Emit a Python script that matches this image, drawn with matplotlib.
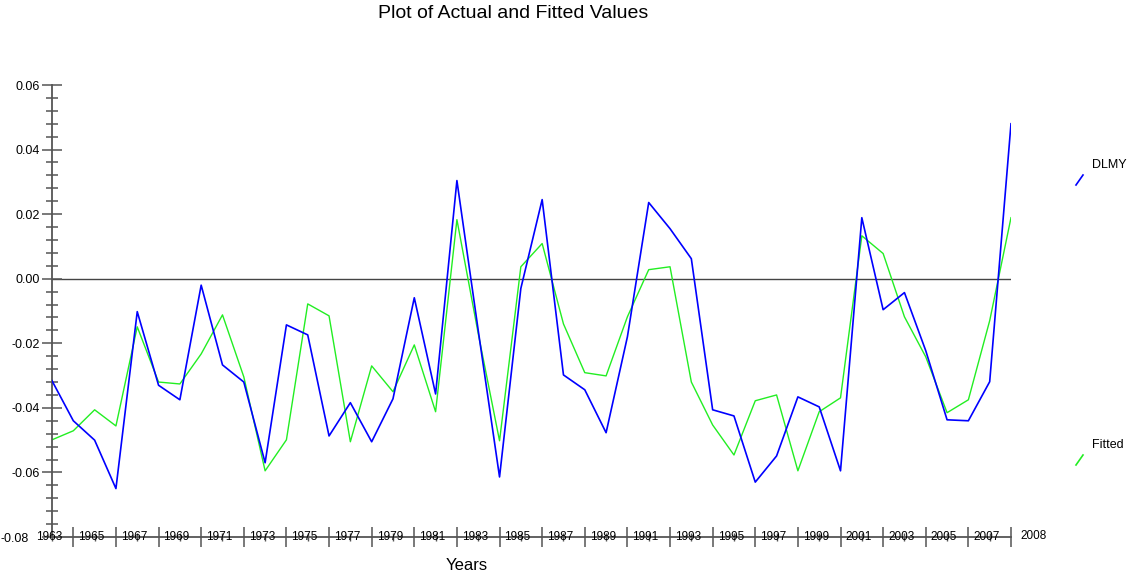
import matplotlib
matplotlib.use("Agg")
import matplotlib.pyplot as plt
from matplotlib.transforms import ScaledTranslation
import numpy as np

years = list(range(1963, 2009))

dlmy = [-0.0316, -0.0440, -0.0500, -0.0650, -0.0102, -0.0330, -0.0375, -0.0020,
        -0.0267, -0.0320, -0.0570, -0.0143, -0.0174, -0.0487, -0.0384, -0.0505,
        -0.0372, -0.0059, -0.0357, 0.0304, -0.0160, -0.0614, -0.0030, 0.0245,
        -0.0298, -0.0344, -0.0477, -0.0180, 0.0236, 0.0155, 0.0062, -0.0406,
        -0.0425, -0.0630, -0.0549, -0.0366, -0.0397, -0.0595, 0.0189, -0.0096,
        -0.0043, -0.0223, -0.0437, -0.0440, -0.0319, 0.0480]

fitted = [-0.0499, -0.0471, -0.0406, -0.0456, -0.0149, -0.0320, -0.0326, -0.0233,
          -0.0112, -0.0304, -0.0595, -0.0499, -0.0078, -0.0115, -0.0505, -0.0270,
          -0.0350, -0.0205, -0.0412, 0.0183, -0.0170, -0.0502, 0.0037, 0.0109,
          -0.0140, -0.0291, -0.0301, -0.0118, 0.0028, 0.0037, -0.0320, -0.0453,
          -0.0546, -0.0378, -0.0360, -0.0595, -0.0412, -0.0369, 0.0133, 0.0078,
          -0.0118, -0.0242, -0.0415, -0.0375, -0.0130, 0.0189]

y_ticks = [-0.08, -0.06, -0.04, -0.02, 0.00, 0.02, 0.04, 0.06]
label_years = list(range(1963, 2008, 2))

plt.rcParams["font.family"] = ["Liberation Sans", "DejaVu Sans"]

W, H = 1131, 577
fig = plt.figure(figsize=(W / 100, H / 100), dpi=100)
ax = fig.add_axes([52 / W, 40 / H, (1011 - 52) / W, (537 - 85) / H])

BLUE = "#0000ff"
GREEN = "#22ee22"

ax.plot(years, dlmy, color=BLUE, lw=1.2, zorder=3)
ax.plot(years, fitted, color=GREEN, lw=1.0, zorder=2)
ax.axhline(0, color="#444444", lw=1.0, zorder=1)

ax.set_xlim(1963, 2008)
ax.set_ylim(-0.08, 0.06)

for s in ["top", "right"]:
    ax.spines[s].set_visible(False)
for s in ["left", "bottom"]:
    ax.spines[s].set_color("#555555")
    ax.spines[s].set_linewidth(1.3)

# y ticks
ax.set_yticks(y_ticks)
ax.set_yticklabels([f"{v:.2f}" for v in y_ticks])
ax.set_yticks(np.arange(-0.08, 0.0601, 0.004), minor=True)
ax.tick_params(axis="y", which="major", direction="inout", length=14, width=1.1,
               color="#555555", labelsize=9, pad=2)
ax.tick_params(axis="y", which="minor", direction="inout", length=8, width=1.1,
               color="#555555")
# bottom label sits a bit further left so it clears the first year
lab = ax.get_yticklabels()[0]
lab.set_transform(lab.get_transform() + ScaledTranslation(-8 / 72, 0, fig.dpi_scale_trans))

# x ticks: long marks at even years, short at odd years, labels drawn on axis
ax.set_xticks(list(range(1964, 2009, 2)))
ax.set_xticklabels([])
ax.set_xticks(label_years, minor=True)
ax.tick_params(axis="x", which="major", direction="inout", length=15, width=1.1,
               color="#555555")
ax.tick_params(axis="x", which="minor", direction="inout", length=6, width=1.0,
               color="#555555")

for yr in label_years:
    ax.text(yr - 0.15, -0.08, str(yr), ha="center", va="center", fontsize=8.5,
            color="black", zorder=4)
ax.text(2008.45, -0.0797, "2008", ha="left", va="center", fontsize=8.5, color="black")

fig.text(467 / W, 1 - 565 / H, "Years", ha="center", va="center", fontsize=12)
fig.text(513 / W, 1 - 14 / H, "Plot of Actual and Fitted Values", ha="center",
         va="center", fontsize=14)

# legend entries at the right
for ly, col, name in [(180, BLUE, "DLMY"), (460, GREEN, "Fitted")]:
    fig.add_artist(plt.Line2D([1076 / W, 1083 / W], [1 - (ly + 5) / H, 1 - (ly - 5) / H],
                              color=col, lw=1.2))
    fig.text(1092 / W, 1 - (ly - 15) / H, name, ha="left", va="center", fontsize=9)

fig.savefig("out.png", dpi=100)
